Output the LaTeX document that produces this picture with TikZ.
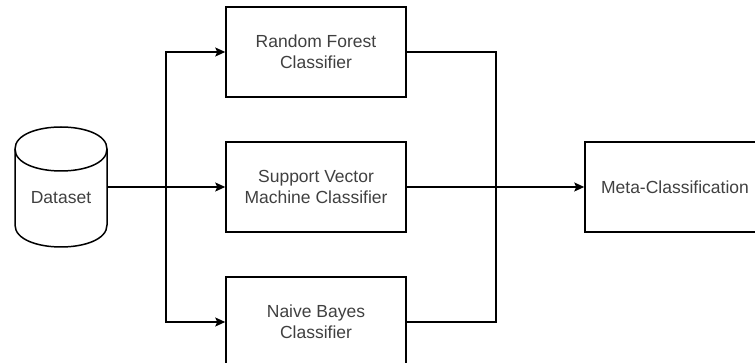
\documentclass[tikz,border=0pt]{standalone}
\usepackage{fontspec}
\setmainfont{Liberation Sans}
\usetikzlibrary{arrows.meta}

\begin{document}
\begin{tikzpicture}[x=1pt, y=-1pt, line width=1.5pt,
  every node/.style={text=black!75, font=\fontsize{17.5}{21}\selectfont},
  box/.style={draw, minimum width=180pt, minimum height=90pt, align=center},
  arr/.style={-{Stealth[length=10pt, width=9pt, inset=2pt]}}]

% Canvas, same size as the original
\useasboundingbox (0,0) rectangle (755,363);

% Dataset cylinder (drawn by hand, node only for the anchors)
\draw (15,149) .. controls (15,119.67) and (107,119.67) .. (107,149)
               .. controls (107,178.33) and (15,178.33) .. (15,149);
\draw (15,149) -- (15,225) .. controls (15,254.33) and (107,254.33) .. (107,225) -- (107,149);
\node[minimum width=92pt, minimum height=120pt, inner sep=0pt] (cyl) at (61,187) {};
\node (data) at (61,198) {Dataset};

% The three classifiers and the meta step
\node[box] (rf)   at (316,52)  {Random Forest\\Classifier};
\node[box] (svm)  at (316,187) {Support Vector\\Machine Classifier};
\node[box] (nb)   at (316,322) {Naive Bayes\\Classifier};
\node[box] (meta) at (675,187) {Meta-Classification};

% Split and merge points
\coordinate (split) at (166,187);
\coordinate (merge) at (496,187);

% Fan out from the dataset
\draw[arr] (cyl.east) -- (svm.west);
\foreach \n in {rf, nb} {
  \draw[arr] (split) |- (\n.west);
}

% Collect the results
\foreach \n in {rf, nb} {
  \draw (\n.east) -| (merge);
}
\draw[arr] (svm.east) -- (meta.west);

\end{tikzpicture}
\end{document}
